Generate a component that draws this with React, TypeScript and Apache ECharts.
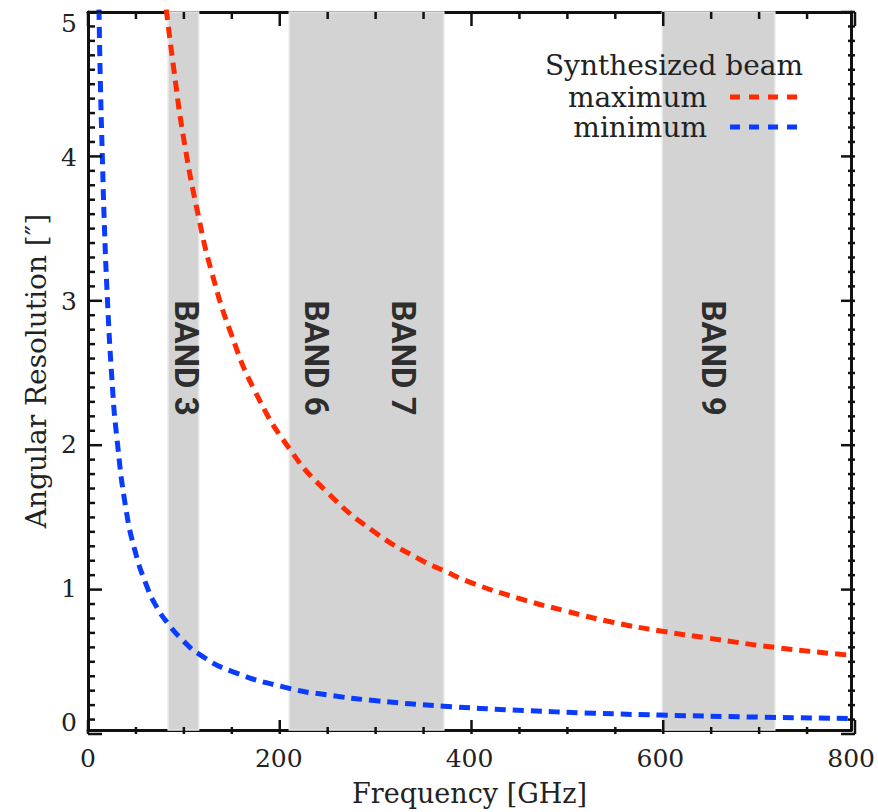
import React, { useEffect, useRef } from "react";
import * as echarts from "echarts";

// ---- data ----
const maxFreq = [82, 90, 100, 116, 130, 150, 175, 211, 250, 300, 350, 373, 400, 450, 500, 550, 600, 650, 720, 800];
const maxRes = [5.02, 4.6, 4.13, 3.57, 3.18, 2.76, 2.36, 1.96, 1.66, 1.38, 1.18, 1.11, 1.03, 0.92, 0.83, 0.75, 0.69, 0.64, 0.575, 0.52];

const minFreq = [11.5, 13, 15, 17, 20, 25, 30, 40, 50, 60, 70, 84, 100, 116, 150, 211, 250, 300, 373, 450, 530, 600, 700, 800];
const minRes = [5.02, 4.5, 4.0, 3.55, 3.05, 2.45, 2.05, 1.53, 1.23, 1.03, 0.88, 0.74, 0.62, 0.53, 0.41, 0.29, 0.245, 0.205, 0.166, 0.138, 0.117, 0.104, 0.09, 0.08];

const bandStart = [84, 211, 602];
const bandEnd = [116, 373, 720];

const bandLabels = ["BAND 3", "BAND 6", "BAND 7", "BAND 9"];
const bandLabelFreq = [103, 240, 331, 656];
const bandLabelRes = 2.59;

const legendTitle = "Synthesized beam";
const legendNames = ["maximum", "minimum"];
const xAxisTitle = "Frequency [GHz]";
const yAxisTitle = "Angular Resolution [\u2033]";

const X_MIN = 0, X_MAX = 800, X_STEP = 200, X_MINOR = 50;
const Y_MIN = 0, Y_MAX = 5, Y_STEP = 1, Y_MINOR = 0.1;

const W = 878, H = 812;
const G_LEFT = 88, G_RIGHT = 23, G_TOP = 12, G_BOTTOM = 78;

const RED = "#ff2a00";
const BLUE = "#0a3cff";
const FONT = "'DejaVu Serif', serif";
const MAJOR_LEN = 14;
const MINOR_LEN = 7;

// tick positions (axis furniture, not data)
const xTickVals: number[] = [];
for (let i = 0; i <= Math.round((X_MAX - X_MIN) / X_MINOR); i++) xTickVals.push(X_MIN + i * X_MINOR);
const yTickVals: number[] = [];
for (let i = 0; i <= Math.round((Y_MAX - Y_MIN) / Y_MINOR); i++) yTickVals.push(Math.round((Y_MIN + i * Y_MINOR) * 10) / 10);

export default function App() {
  const ref = useRef<HTMLDivElement>(null);

  useEffect(() => {
    if (!ref.current) return;
    const chart = echarts.init(ref.current, null, { renderer: "svg" });

    const mkLine = () => ({ show: true, onZero: false, lineStyle: { color: "#111", width: 3 } });

    const xBase = (pos: "top" | "bottom", labels: boolean) => ({
      type: "value" as const,
      position: pos,
      min: X_MIN,
      max: X_MAX,
      interval: X_STEP,
      axisLine: mkLine(),
      axisTick: { show: false },
      minorTick: { show: false },
      splitLine: { show: false },
      axisLabel: labels
        ? { show: true, margin: 16, fontFamily: FONT, fontSize: 25, color: "#222" }
        : { show: false },
    });
    const yBase = (pos: "left" | "right", labels: boolean) => ({
      type: "value" as const,
      position: pos,
      min: Y_MIN,
      max: Y_MAX,
      interval: Y_STEP,
      axisLine: mkLine(),
      axisTick: { show: false },
      minorTick: { show: false },
      splitLine: { show: false },
      axisLabel: labels
        ? {
            show: true,
            margin: 11,
            fontFamily: FONT,
            fontSize: 25,
            color: "#222",
            formatter: (v: number) => (v === Y_MAX ? "{top|" + v + "}" : v === Y_MIN ? "{bot|" + v + "}" : "{mid|" + v + "}"),
            rich: {
              top: { fontFamily: FONT, fontSize: 25, color: "#222", padding: [22, 0, 0, 0] },
              bot: { fontFamily: FONT, fontSize: 25, color: "#222", padding: [0, 0, 15, 0] },
              mid: { fontFamily: FONT, fontSize: 25, color: "#222", padding: [4, 0, 0, 0] },
            },
          }
        : { show: false },
    });

    const xAxes = [
      {
        ...xBase("bottom", true),
        name: xAxisTitle,
        nameLocation: "middle",
        nameGap: 50,
        nameTextStyle: { fontFamily: FONT, fontSize: 27, color: "#222" },
      },
      xBase("top", false),
    ];
    const yAxes = [
      {
        ...yBase("left", true),
        name: yAxisTitle,
        nameLocation: "middle",
        nameGap: 37,
        nameTextStyle: { fontFamily: FONT, fontSize: 28, color: "#222" },
      },
      yBase("right", false),
    ];

    const legendX = 803;
    const lineX0 = 730;
    const lineX1 = 797;
    const legendRowY = [65, 97, 127];
    const legendColors = [RED, BLUE];

    const graphic: any[] = [
      {
        type: "text",
        x: legendX,
        y: legendRowY[0],
        style: { text: legendTitle, fontFamily: FONT, fontSize: 28, fill: "#222", textAlign: "right", textVerticalAlign: "middle" },
        z: 10,
      },
    ];
    legendNames.forEach((n, i) => {
      graphic.push({
        type: "text",
        x: 707,
        y: legendRowY[i + 1],
        style: { text: n, fontFamily: FONT, fontSize: 28, fill: "#222", textAlign: "right", textVerticalAlign: "middle" },
        z: 10,
      });
      graphic.push({
        type: "line",
        shape: { x1: lineX0, y1: legendRowY[i + 1], x2: lineX1, y2: legendRowY[i + 1] },
        style: { stroke: legendColors[i], lineWidth: 5, lineDash: [10, 9] },
        z: 10,
      });
    });

    // inward ticks on all four sides of the plot box (same linear mapping as the grid)
    const gx0 = G_LEFT, gx1 = W - G_RIGHT, gy0 = H - G_BOTTOM, gy1 = G_TOP;
    const xPix = (v: number) => gx0 + ((v - X_MIN) / (X_MAX - X_MIN)) * (gx1 - gx0);
    const yPix = (v: number) => gy0 - ((v - Y_MIN) / (Y_MAX - Y_MIN)) * (gy0 - gy1);
    xTickVals.forEach((v) => {
      const px = xPix(v);
      const len = v % X_STEP === 0 ? MAJOR_LEN : MINOR_LEN;
      graphic.push({ type: "line", z: 20, shape: { x1: px, y1: gy0, x2: px, y2: gy0 - len }, style: { stroke: "#111", lineWidth: 2.5 } });
      graphic.push({ type: "line", z: 20, shape: { x1: px, y1: gy1, x2: px, y2: gy1 + len }, style: { stroke: "#111", lineWidth: 2.5 } });
    });
    yTickVals.forEach((v, i) => {
      const py = yPix(v);
      const len = i % 10 === 0 ? MAJOR_LEN : MINOR_LEN;
      graphic.push({ type: "line", z: 20, shape: { x1: gx0, y1: py, x2: gx0 + len, y2: py }, style: { stroke: "#111", lineWidth: 2.5 } });
      graphic.push({ type: "line", z: 20, shape: { x1: gx1, y1: py, x2: gx1 - len, y2: py }, style: { stroke: "#111", lineWidth: 2.5 } });
    });

    chart.setOption({
      animation: false,
      backgroundColor: "#ffffff",
      grid: { left: G_LEFT, right: G_RIGHT, top: G_TOP, bottom: G_BOTTOM, containLabel: false },
      xAxis: xAxes,
      yAxis: yAxes,
      graphic,
      series: [
        {
          type: "scatter",
          name: "bands",
          z: 1,
          symbolSize: 0,
          data: bandLabels.map((b, i) => ({ name: b, value: [bandLabelFreq[i], bandLabelRes] })),
          label: {
            show: true,
            position: "inside",
            rotate: -90,
            formatter: "{b}",
            fontFamily: "Roboto, 'Liberation Sans', sans-serif",
            fontWeight: "bold",
            fontSize: 33,
            color: "#000",
          },
          markArea: {
            silent: true,
            itemStyle: { color: "#d3d3d3", borderColor: "#e6e6e6", borderWidth: 1.5 },
            data: bandStart.map((s, i) => [{ xAxis: s }, { xAxis: bandEnd[i] }]),
          },
        },
        {
          type: "line",
          name: "maximum",
          z: 3,
          smooth: true,
          showSymbol: false,
          symbol: "none",
          data: maxFreq.map((f, i) => [f, maxRes[i]]),
          lineStyle: { color: RED, width: 5, type: [11, 7] },
        },
        {
          type: "line",
          name: "minimum",
          z: 3,
          smooth: true,
          showSymbol: false,
          symbol: "none",
          data: minFreq.map((f, i) => [f, minRes[i]]),
          lineStyle: { color: BLUE, width: 5, type: [11, 7] },
        },
      ],
    });

    return () => chart.dispose();
  }, []);

  return (
    <div
      ref={ref}
      style={{ position: "fixed", left: 0, top: 0, width: W, height: H, background: "#fff" }}
    />
  );
}
